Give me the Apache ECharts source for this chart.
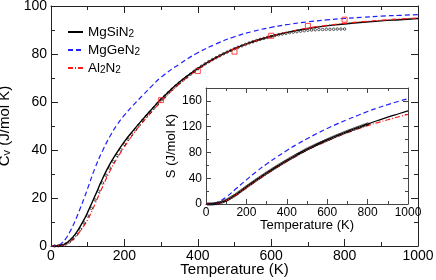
<!DOCTYPE html>
<html><head><meta charset="utf-8">
<script src="https://cdn.jsdelivr.net/npm/echarts@6/dist/echarts.min.js"></script>
<style>html,body{margin:0;padding:0;background:#fff}#c{width:436px;height:280px}</style>
</head><body><div id="c"></div>
<script>
// Main plot: heat capacity Cv (J/mol K)
const T = [0,10,20,30,40,50,60,70,80,90,100,120,140,160,180,200,225,250,275,300,350,400,450,500,550,600,650,700,750,800,850,900,950,1000];
const cvMgSiN2 = [0,0.02,0.1,0.4,1.0,2.2,3.8,5.8,8.3,11.0,14.1,20.9,27.9,34.0,39.0,43.5,48.3,52.8,57.1,61.2,68.3,73.9,78.5,82.2,85.1,87.4,89.2,90.6,91.7,92.5,93.2,93.8,94.3,94.8];
const cvMgGeN2 = [0,0.03,0.35,1.3,3.0,5.5,8.5,12.0,15.8,19.8,24.0,32.5,39.5,45.5,50.5,54.5,58.8,62.8,66.7,70.3,75.8,80.5,84.2,87.2,89.4,91.1,92.4,93.4,94.2,94.8,95.3,95.8,96.1,96.4];
const cvAl2N2 = [0,0.01,0.08,0.3,0.7,1.6,2.8,4.4,6.3,8.5,11.0,17.5,24.5,31.0,36.5,41.3,46.8,51.6,56.0,60.2,67.6,73.5,78.3,82.1,85.1,87.5,89.3,90.8,91.9,92.8,93.5,94.1,94.6,95.0];
// experimental points (black markers)
const Texp = [10,20,30,40,50,60,70,80,90,100,110,120,130,140,150,160,170,180,190,200,210,220,230,240,250,260,270,280,290,300,310,320,330,340,350,360,370,380,390,400,410,420,430,440,450,460,470,480,490,500,510,520,530,540,550,560,570,580,590,600,610,620,630,640,650,660,670,680,690,700,710,720,730,740,750,760,770,780,790,800];
const cvExp = [0.01,0.08,0.3,0.8,1.7,3.0,4.8,7.0,9.6,12.5,15.7,19.2,22.8,26.3,29.5,32.5,35.2,37.7,40.1,42.4,44.5,46.6,48.5,50.4,52.3,54.1,55.8,57.5,59.2,60.9,62.4,63.9,65.3,66.7,68.0,69.2,70.4,71.6,72.8,73.9,74.9,75.9,76.8,77.7,78.5,79.3,80.1,80.8,81.5,82.2,82.8,83.4,84.0,84.6,85.1,85.6,86.1,86.5,86.9,87.3,87.7,88.0,88.3,88.6,88.9,89.1,89.3,89.5,89.7,89.9,90.0,90.1,90.2,90.2,90.3,90.3,90.3,90.4,90.4,90.4];
// red squares
const Tsq = [300,400,500,600,700,800];
const cvSq = [60.8,72.9,81.0,87.6,91.7,94.3];
// Inset: entropy S (J/mol K)
const TS = [0,25,50,75,100,150,200,250,300,350,400,450,500,550,600,650,700,750,800,850,900,950,1000];
const sMgSiN2 = [0,0.05,0.8,2.7,5.5,15,26.5,37.5,48,58,67.5,76.5,85,92.5,99.5,106.2,112.5,118.4,124,129.5,134.8,139.7,144.4];
const sAl2N2 = [0,0.04,0.6,2.3,4.9,14,25.2,36,46.8,56.6,66.2,75.1,83.7,91.1,98,104.6,110.8,116.5,121.7,126.3,130.7,135,139];
const sMgGeN2 = [0,0.2,1.8,5.5,10.7,24,37.5,50.5,62,73,83,92.5,101.2,109.5,117.2,124.3,131,137.3,143.5,149.2,154.2,159,163.5];
const sExp = [0,0.02,0.1,0.35,0.8,1.4,2.2,3.2,4.3,5.5,7.3,9.2,11.1,13.0,15.0,17.3,19.6,21.9,24.2,26.5,28.7,30.9,33.1,35.3,37.5,39.6,41.7,43.8,45.9,48.0,50.0,52.0,54.0,56.0,58.0,59.9,61.8,63.7,65.6,67.5,69.3,71.1,72.9,74.7,76.5,78.2,79.9,81.6,83.3,85.0,86.5,88.0,89.5,91.0,92.5,93.9,95.3,96.7,98.1,99.5,100.8,102.2,103.5,104.9,106.2,107.5,108.7,110.0,111.2,112.5,113.7,114.9,116.0,117.2,118.4,119.5,120.6,121.8,122.9,124.0];
// axis ticks
const mainXTicks = {min:0, max:1000, interval:200};
const mainYTicks = {min:0, max:100, interval:20};
const insetXTicks = {min:0, max:1000, interval:200};
const insetYTicks = {min:0, max:180, interval:40};

const pairs = (xs, ys) => xs.map((x,i)=>[x, ys[i]]);
const FONT = 'Liberation Sans';
const BLUE = '#1f1fff', RED = '#ff1a1a', BLACK = '#000';

function xAx(grid, t, pos, showLabel, fs, nfs, name, gap, lineColor) {
  return {type:'value', gridIndex:grid, position:pos, min:t.min, max:t.max, interval:t.interval,
    name: name || '', nameLocation:'middle', nameGap:gap||0, nameMoveOverlap:false,
    nameTextStyle:{fontFamily:FONT, fontSize:nfs, color:'#000'},
    axisLine:{show:true, onZero:false, lineStyle:{color:lineColor, width:1}},
    axisTick:{show:true, inside:true, length: grid===0?7:5, lineStyle:{color:lineColor}},
    minorTick:{show:true, splitNumber:2, length: grid===0?4:3, lineStyle:{color:lineColor}},
    splitLine:{show:false}, minorSplitLine:{show:false},
    axisLabel:{show:showLabel, margin:3, fontFamily:FONT, fontSize:fs, color:'#000', formatter: v => String(v)}};
}
function yAx(grid, t, pos, showLabel, fs, nfs, name, gap, lineColor) {
  return {type:'value', gridIndex:grid, position:pos, min:t.min, max:t.max, interval:t.interval,
    name: name || '', nameLocation:'middle', nameGap:gap||0, nameRotate:90,
    nameTextStyle:{fontFamily:FONT, fontSize:nfs, color:'#000',
      rich:{a:{fontFamily:FONT, fontSize:nfs, color:'#000', lineHeight:nfs, verticalAlign:'top'},
            s:{fontFamily:FONT, fontSize:Math.round(nfs*0.7), color:'#000', lineHeight:Math.round(nfs*0.7), padding:[Math.round(nfs*0.45),0,0,0], verticalAlign:'bottom'}}},
    axisLine:{show:true, onZero:false, lineStyle:{color:lineColor, width:1}},
    axisTick:{show:true, inside:true, length: grid===0?7:5, lineStyle:{color:lineColor}},
    minorTick:{show:true, splitNumber:2, length: grid===0?4:3, lineStyle:{color:lineColor}},
    splitLine:{show:false}, minorSplitLine:{show:false},
    axisLabel:{show:showLabel, margin:4, fontFamily:FONT, fontSize:fs, color:'#000', showMaxLabel: grid===0, formatter: v => String(v)}};
}

const chart = echarts.init(document.getElementById('c'), null, {renderer:'canvas'});
const lineS = (name, data, color, type, width, xi, yi, z) => ({
  type:'line', name, data, xAxisIndex:xi, yAxisIndex:yi, smooth:true, showSymbol:false, symbol:'none',
  lineStyle:{color, width, type}, itemStyle:{color}, z, animation:false, clip:true});

chart.setOption({
  animation:false,
  backgroundColor:'#fff',
  grid:[
    {left:51, top:6, right:18, bottom:34, containLabel:false, outerBoundsMode:'none'},
    {left:206, top:88, right:28, bottom:76, containLabel:false, outerBoundsMode:'none', show:true, backgroundColor:'#fff', borderWidth:0}
  ],
  legend:{
    orient:'vertical', left:62, top:18, itemWidth:15, itemHeight:14, itemGap:2,
    itemStyle:{opacity:0},
    data:['MgSiN2','MgGeN2','Al2N2'],
    formatter: n => ({'MgSiN2':'{a|MgSiN}{s|2}','MgGeN2':'{a|MgGeN}{s|2}','Al2N2':'{a|Al}{s|2}{a|N}{s|2}'})[n],
    textStyle:{fontFamily:FONT, fontSize:13.5, color:'#000',
      rich:{a:{fontFamily:FONT, fontSize:13.5, color:'#000', lineHeight:14, verticalAlign:'top'},
            s:{fontFamily:FONT, fontSize:10, color:'#000', lineHeight:10, padding:[6,0,0,0], verticalAlign:'bottom'}}}
  },
  xAxis:[
    xAx(0, mainXTicks, 'bottom', true, 14, 15, 'Temperature (K)', 16, '#222'),
    xAx(0, mainXTicks, 'top', false, 14, 15, '', 0, '#222'),
    xAx(1, insetXTicks, 'bottom', true, 12, 13, 'Temperature (K)', 15, '#444'),
    xAx(1, insetXTicks, 'top', false, 12, 13, '', 0, '#444')
  ],
  yAxis:[
    yAx(0, mainYTicks, 'left', true, 14, 15, '{a|C}{s|v}{a| (J/mol K)}', 38, '#222'),
    yAx(0, mainYTicks, 'right', false, 14, 15, '', 0, '#222'),
    yAx(1, insetYTicks, 'left', true, 12, 13, 'S (J/mol K)', 28, '#444'),
    yAx(1, insetYTicks, 'right', false, 12, 13, '', 0, '#444')
  ],
  series:[
    lineS('MgSiN2', pairs(T, cvMgSiN2), BLACK, 'solid', 1.4, 0, 0, 3),
    lineS('MgGeN2', pairs(T, cvMgGeN2), BLUE, [5,3], 1.2, 0, 0, 3),
    lineS('Al2N2', pairs(T, cvAl2N2), RED, [5,2,1,2], 1.2, 0, 0, 4),
    {type:'scatter', name:'exp', data:pairs(Texp, cvExp), xAxisIndex:0, yAxisIndex:0, symbol:'circle', symbolSize:2.5,
      itemStyle:{color:'rgba(0,0,0,0)', borderColor:'#000', borderWidth:0.8}, z:5},
    {type:'scatter', name:'sq', data:pairs(Tsq, cvSq), xAxisIndex:0, yAxisIndex:0, symbol:'rect', symbolSize:5,
      itemStyle:{color:'rgba(0,0,0,0)', borderColor:RED, borderWidth:1}, z:6},
    lineS('MgSiN2', pairs(TS, sMgSiN2), BLACK, 'solid', 1.2, 2, 2, 3),
    lineS('MgGeN2', pairs(TS, sMgGeN2), BLUE, [5,3], 1.2, 2, 2, 3),
    lineS('Al2N2', pairs(TS, sAl2N2), RED, [5,2,1,2], 1.2, 2, 2, 4),
    {type:'scatter', name:'expS', data:pairs(Texp, sExp), xAxisIndex:2, yAxisIndex:2, symbol:'circle', symbolSize:2.5,
      itemStyle:{color:'rgba(0,0,0,0)', borderColor:'#000', borderWidth:0.9}, z:5}
  ]
});
</script></body></html>
